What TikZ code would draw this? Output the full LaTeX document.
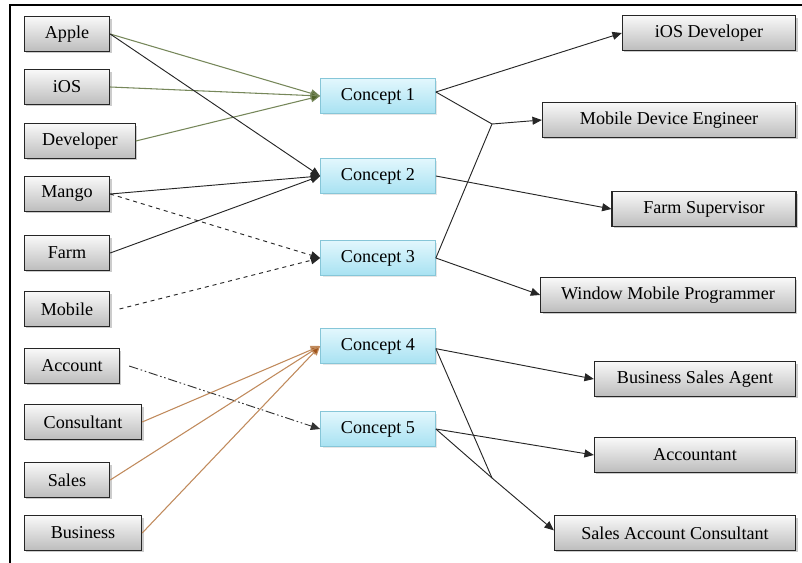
\documentclass[tikz,border=0pt]{standalone}
\usepackage{fontspec}
\setmainfont{Liberation Serif}
\usetikzlibrary{arrows.meta,shadows}
\definecolor{oliveln}{HTML}{76875A}
\definecolor{olivetip}{HTML}{4F6228}
\definecolor{brownln}{HTML}{C08A5C}
\definecolor{browntip}{HTML}{A0541C}
\definecolor{cyantop}{HTML}{E2F7FD}
\definecolor{cyanbot}{HTML}{A8E2F2}
\definecolor{cyanedge}{HTML}{86C6D8}
\tikzset{
  termbox/.style={draw=black!85, line width=0.8pt, top color=gray!5, bottom color=gray!52,
    minimum height=26pt, inner sep=0pt, font=\fontsize{13.6}{15}\selectfont,
    drop shadow={shadow xshift=1.6pt, shadow yshift=-1.6pt, opacity=0.4}},
  conceptbox/.style={draw=cyanedge, line width=0.8pt, top color=cyantop, bottom color=cyanbot,
    minimum width=86pt, minimum height=26pt, inner sep=0pt, font=\fontsize{13.6}{15}\selectfont,
    drop shadow={shadow xshift=1.4pt, shadow yshift=-1.4pt, opacity=0.2}},
  tip/.style={-{Triangle[length=7pt,width=6pt]}},
  blackln/.style={draw=black!85, line width=0.7pt},
  greenln/.style={draw=oliveln, line width=0.8pt, -{Triangle[length=7pt,width=6pt,fill=olivetip]}},
  brownl/.style={draw=brownln, line width=0.8pt, -{Triangle[length=7pt,width=6pt,fill=browntip]}},
}
\begin{document}
\begin{tikzpicture}[x=0.75pt, y=-0.75pt]
\useasboundingbox (0,0) rectangle (802,563);
% frame
\draw[line width=2pt] (802,5) -- (10,5) -- (10,563);

% input terms
\node[termbox, minimum width=64pt] (apple) at (67,34) {Apple};
\node[termbox, minimum width=64pt] (ios) at (67,87) {iOS};
\node[termbox, minimum width=83pt] (dev) at (80,141) {Developer};
\node[termbox, minimum width=64pt] (mango) at (67,194) {Mango};
\node[termbox, minimum width=64pt] (farm) at (67,253) {Farm};
\node[termbox, minimum width=64pt] (mobile) at (67,309) {Mobile};
\node[termbox, minimum width=71pt] (account) at (72,366) {Account};
\node[termbox, minimum width=88pt] (consult) at (83,422) {Consultant};
\node[termbox, minimum width=64pt] (sales) at (67,480) {Sales};
\node[termbox, minimum width=88pt] (business) at (83,533) {Business};

% concepts
\node[conceptbox] (c1) at (378,96) {Concept 1};
\node[conceptbox] (c2) at (378,176) {Concept 2};
\node[conceptbox] (c3) at (378,258) {Concept 3};
\node[conceptbox] (c4) at (378,346) {Concept 4};
\node[conceptbox] (c5) at (378,429) {Concept 5};

% job titles
\node[termbox, minimum width=130pt] (iosdev) at (709,33) {iOS Developer};
\node[termbox, minimum width=190pt] (mde) at (669,120) {Mobile Device Engineer};
\node[termbox, minimum width=138pt] (farmsup) at (704,209) {Farm Supervisor};
\node[termbox, minimum width=191pt] (wmp) at (668,295) {Window Mobile Programmer};
\node[termbox, minimum width=151pt] (bsa) at (695,379) {Business Sales Agent};
\node[termbox, minimum width=151pt] (acct) at (695,455) {Accountant};
\node[termbox, minimum width=181pt] (sac) at (675,533) {Sales Account Consultant};

% junction points
\coordinate (j1) at (492,124);
\coordinate (j2) at (492,478);

% terms to concepts
\draw[greenln] (apple.east) -- (c1.west);
\draw[greenln] (ios.east) -- (c1.west);
\draw[greenln] (dev.east) -- (c1.west);
\draw[blackln, tip] (apple.east) -- (c2.west);
\draw[blackln, tip] (mango.east) -- (c2.west);
\draw[blackln, tip] (farm.east) -- (c2.west);
\draw[blackln, tip, dashed] (mango.east) -- (c3.west);
\draw[blackln, tip, dashed] ([xshift=7pt]mobile.east) -- (c3.west);
\draw[draw=black!80, line width=0.7pt, tip, dash pattern=on 7pt off 2pt on 1.2pt off 2pt on 1.2pt off 2pt]
  ([xshift=7pt]account.east) -- (c5.west);
\draw[brownl] (consult.east) -- (c4.west);
\draw[brownl] (sales.east) -- (c4.west);
\draw[brownl] (business.east) -- (c4.west);

% concepts to job titles
\draw[blackln, tip] ([yshift=3pt]c1.east) -- (iosdev.west);
\draw[blackln] ([yshift=3pt]c1.east) -- (j1);
\draw[blackln] (c3.east) -- (j1);
\draw[blackln, tip] (j1) -- (mde.west);
\draw[blackln, tip] (c2.east) -- (farmsup.west);
\draw[blackln, tip] (c3.east) -- (wmp.west);
\draw[blackln, tip] ([yshift=-2pt]c4.east) -- (bsa.west);
\draw[blackln] ([yshift=-2pt]c4.east) -- (j2);
\draw[blackln] (c5.east) -- (j2);
\draw[blackln, tip] (j2) -- ([yshift=2pt]sac.west);
\draw[blackln, tip] (c5.east) -- (acct.west);
\end{tikzpicture}
\end{document}
